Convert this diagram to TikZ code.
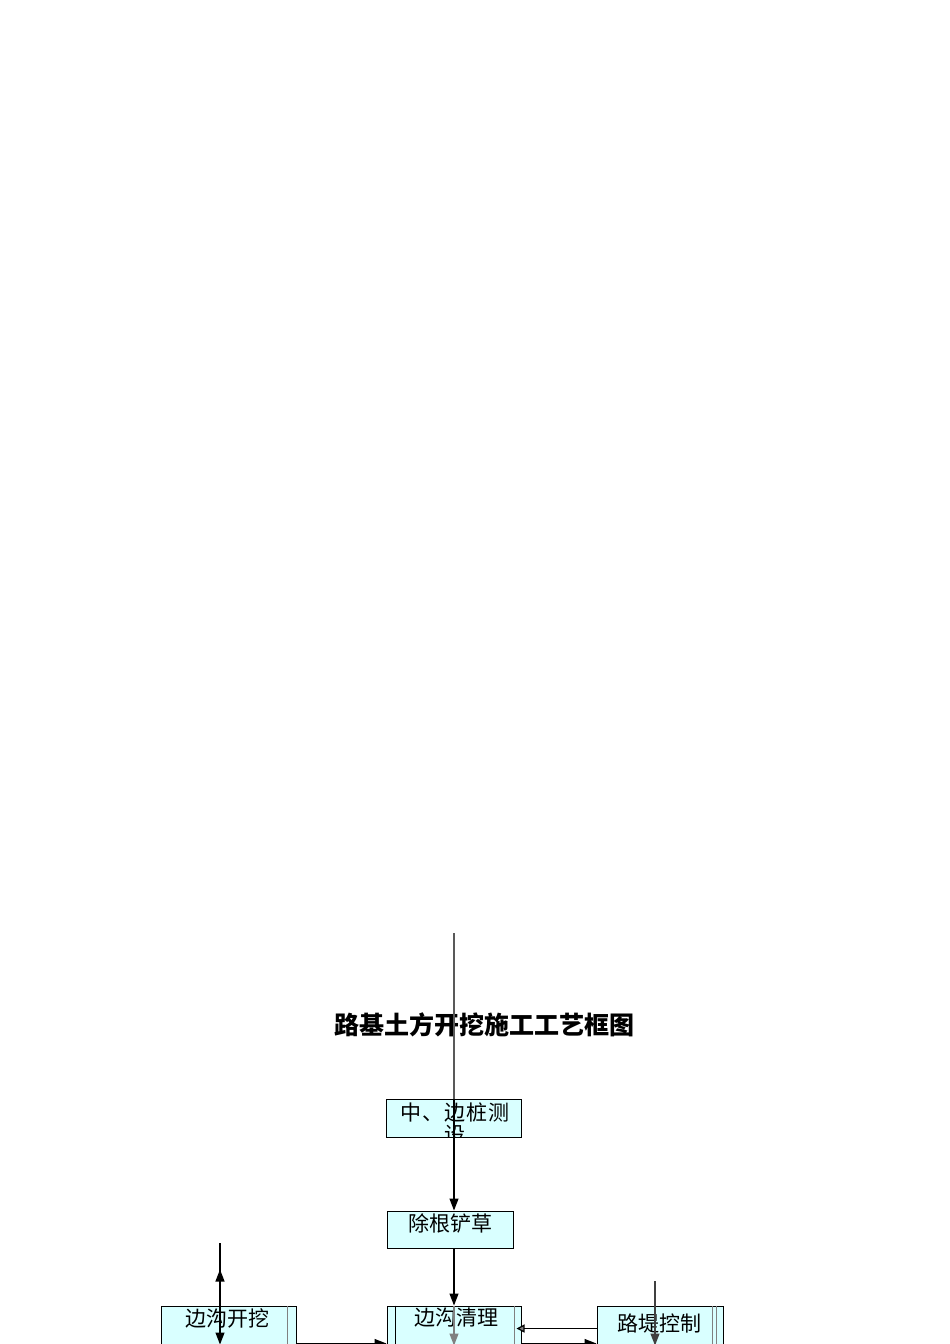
\documentclass[tikz,border=0pt]{standalone}
\usepackage{fontspec}
\setmainfont{Noto Sans CJK SC}
\usetikzlibrary{arrows.meta}
\definecolor{boxfill}{HTML}{D9FFFF}

\begin{document}
\begin{tikzpicture}[x=1pt,y=-1pt,line width=1.2pt,
	box/.style={draw,line width=1pt,fill=boxfill,inner sep=0pt,minimum height=38pt},
	txt/.style={inner sep=0pt,font=\fontsize{21}{21}\selectfont},
	arr/.style={-{Triangle[length=12pt,width=9pt]}}]
	\useasboundingbox (0,0) rectangle (950,1344);
	\node (title) at (484,1025) {\fontsize{25}{25}\selectfont\bfseries 路基土方开挖施工工艺框图};
	% boxes
	\node[box,minimum width=135pt] (cz) at (454,1118) {};
	\begin{scope}
		\clip (cz.south west) rectangle (cz.north east);
		\node[txt] (czt) at (455,1112) {\addfontfeature{LetterSpace=4}中、边桩测};
		\node[txt] (czs) at (455,1135) {设};
	\end{scope}
	\node[box,minimum width=126pt,minimum height=37pt] (cg) at (450,1229.5) {};
	\node[txt] (cgt) at (450,1223) {除根铲草};
	\node[box,minimum width=135pt] (kw) at (228.5,1325) {};
	\node[txt] (kwt) at (227,1318) {边沟开挖};
	\node[box,minimum width=134pt] (ql) at (454,1325) {};
	\node[txt] (qlt) at (456,1318) {边沟清理};
	\node[box,minimum width=126pt] (lt) at (660,1325) {};
	\node[txt] (ltt) at (659,1323) {路堤控制};
	% inner edges
	\draw ([xshift=9pt]ql.north west) -- ([xshift=9pt]ql.south west);
	\draw[gray] ([xshift=-7pt]ql.north east) -- ([xshift=-7pt]ql.south east);
	\draw[gray] ([xshift=-9pt]kw.north east) -- ([xshift=-9pt]kw.south east);
	\draw[gray] ([xshift=-11pt]lt.north east) -- ([xshift=-11pt]lt.south east);
	\draw[gray] ([xshift=-7pt]lt.north east) -- ([xshift=-7pt]lt.south east);
	% connectors
	\coordinate (src) at (454,933);
	\coordinate (kwtop) at (220,1243);
	\coordinate (lttop) at (655,1281);
	\draw[black!65] (src) -- (src |- cz.north);
	\draw[arr] (src |- cz.north) -- (src |- cg.north);
	\draw[arr] (src |- cg.south) -- (src |- ql.north);
	\draw[arr,gray] (src |- ql.north) -- ([yshift=-1pt]src |- ql.south);
	\draw[arr] (kwtop) -- (kwtop |- kw.south);
	\draw[arr] (kwtop |- kw.north) -- ([yshift=36pt]kwtop |- kw.north);
	\draw[arr,black!75] (lttop) -- ([yshift=-1pt]lttop |- lt.south);
	\draw[arr,-{Triangle[length=8pt,width=8pt,fill=gray]}] ([yshift=-3.5pt]lt.west) -- ([xshift=-5pt,yshift=-3.5pt]ql.east);
	\draw[arr] ([yshift=-18.5pt]kw.east) -- ([yshift=-18.5pt]ql.west);
	\draw[arr] ([yshift=-18.5pt]ql.east) -- ([yshift=-18.5pt]lt.west);
\end{tikzpicture}
\end{document}
